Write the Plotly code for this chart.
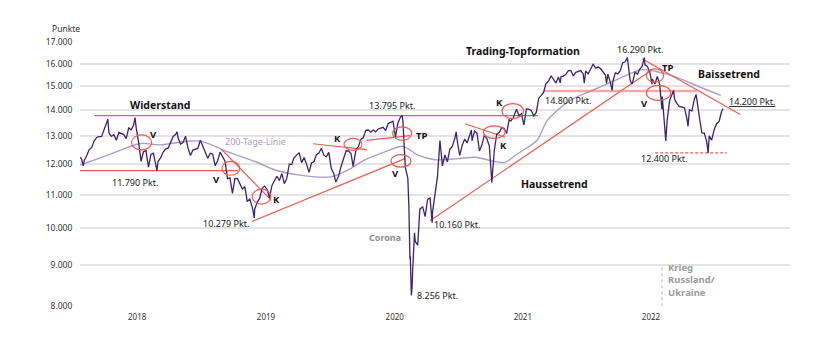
import numpy as np
import plotly.graph_objects as go

# ---------------- data ----------------
dax_dates = [
    "2017-08-21", "2017-08-25", "2017-08-29", "2017-09-01", "2017-09-08", "2017-09-15", "2017-09-22", "2017-09-29",
    "2017-10-06", "2017-10-13", "2017-10-20", "2017-10-27", "2017-11-03", "2017-11-07", "2017-11-10", "2017-11-17",
    "2017-11-24", "2017-12-01", "2017-12-08", "2017-12-15", "2017-12-22", "2017-12-29",
    "2018-01-05", "2018-01-12", "2018-01-19", "2018-01-23", "2018-01-26", "2018-02-02", "2018-02-09", "2018-02-16",
    "2018-02-23", "2018-03-02", "2018-03-09", "2018-03-16", "2018-03-23", "2018-03-26", "2018-03-29", "2018-04-06",
    "2018-04-13", "2018-04-20", "2018-04-27", "2018-05-04", "2018-05-11", "2018-05-18", "2018-05-22", "2018-05-25",
    "2018-06-01", "2018-06-08", "2018-06-15", "2018-06-22", "2018-06-29", "2018-07-06", "2018-07-13", "2018-07-20",
    "2018-07-27", "2018-08-03", "2018-08-10", "2018-08-17", "2018-08-24", "2018-08-31", "2018-09-07", "2018-09-14",
    "2018-09-21", "2018-09-28", "2018-10-05", "2018-10-12", "2018-10-19", "2018-10-26", "2018-11-02", "2018-11-09",
    "2018-11-16", "2018-11-23", "2018-11-30", "2018-12-07", "2018-12-14", "2018-12-21", "2018-12-27", "2018-12-28",
    "2019-01-04", "2019-01-11", "2019-01-18", "2019-01-25", "2019-02-01", "2019-02-08", "2019-02-15", "2019-02-22",
    "2019-03-01", "2019-03-08", "2019-03-15", "2019-03-22", "2019-03-29", "2019-04-05", "2019-04-12", "2019-04-18",
    "2019-04-26", "2019-05-03", "2019-05-10", "2019-05-17", "2019-05-24", "2019-05-31", "2019-06-07", "2019-06-14",
    "2019-06-21", "2019-06-28", "2019-07-05", "2019-07-12", "2019-07-19", "2019-07-26", "2019-08-02", "2019-08-09",
    "2019-08-15", "2019-08-23", "2019-08-30", "2019-09-06", "2019-09-13", "2019-09-20", "2019-09-27", "2019-10-03",
    "2019-10-11", "2019-10-18", "2019-10-25", "2019-11-01", "2019-11-08", "2019-11-15", "2019-11-22", "2019-11-29",
    "2019-12-06", "2019-12-13", "2019-12-20", "2019-12-27",
    "2020-01-03", "2020-01-10", "2020-01-17", "2020-01-24", "2020-01-31", "2020-02-07", "2020-02-14", "2020-02-19",
    "2020-02-21", "2020-02-28", "2020-03-06", "2020-03-09", "2020-03-12", "2020-03-13", "2020-03-16", "2020-03-18",
    "2020-03-20", "2020-03-25", "2020-03-27", "2020-04-03", "2020-04-09", "2020-04-17", "2020-04-24", "2020-05-01",
    "2020-05-08", "2020-05-14", "2020-05-15", "2020-05-22", "2020-05-29", "2020-06-05", "2020-06-12", "2020-06-19",
    "2020-06-26", "2020-07-03", "2020-07-10", "2020-07-17", "2020-07-21", "2020-07-24", "2020-07-31", "2020-08-07",
    "2020-08-14", "2020-08-21", "2020-08-28", "2020-09-02", "2020-09-04", "2020-09-11", "2020-09-18", "2020-09-25",
    "2020-10-02", "2020-10-09", "2020-10-16", "2020-10-23", "2020-10-30", "2020-11-06", "2020-11-13", "2020-11-20",
    "2020-11-27", "2020-12-04", "2020-12-11", "2020-12-18", "2020-12-23", "2020-12-30",
    "2021-01-08", "2021-01-15", "2021-01-22", "2021-01-29", "2021-02-05", "2021-02-12", "2021-02-19", "2021-02-26",
    "2021-03-05", "2021-03-12", "2021-03-19", "2021-03-26", "2021-04-01", "2021-04-09", "2021-04-16", "2021-04-23",
    "2021-04-30", "2021-05-07", "2021-05-12", "2021-05-14", "2021-05-21", "2021-05-28", "2021-06-04", "2021-06-11",
    "2021-06-18", "2021-06-25", "2021-07-02", "2021-07-09", "2021-07-16", "2021-07-19", "2021-07-23", "2021-07-30",
    "2021-08-06", "2021-08-13", "2021-08-20", "2021-08-27", "2021-09-03", "2021-09-10", "2021-09-17", "2021-09-20",
    "2021-09-24", "2021-10-01", "2021-10-06", "2021-10-08", "2021-10-15", "2021-10-22", "2021-10-29", "2021-11-05",
    "2021-11-12", "2021-11-18", "2021-11-19", "2021-11-26", "2021-12-01", "2021-12-03", "2021-12-10", "2021-12-17",
    "2021-12-23", "2021-12-30",
    "2022-01-05", "2022-01-07", "2022-01-14", "2022-01-21", "2022-01-27", "2022-01-28", "2022-02-04", "2022-02-11",
    "2022-02-18", "2022-02-24", "2022-02-25", "2022-03-04", "2022-03-07", "2022-03-11", "2022-03-18", "2022-03-29",
    "2022-04-01", "2022-04-08", "2022-04-14", "2022-04-22", "2022-04-29", "2022-05-06", "2022-05-09", "2022-05-13",
    "2022-05-20", "2022-05-27", "2022-06-01", "2022-06-10", "2022-06-17", "2022-06-24", "2022-07-01", "2022-07-05",
    "2022-07-08", "2022-07-15", "2022-07-22", "2022-07-29", "2022-08-05", "2022-08-12", "2022-08-16",
]
dax_values = [
    12250, 12170, 11950, 12140, 12300, 12520, 12590, 12830,
    12960, 12990, 12990, 13220, 13480, 13650, 13130, 13000,
    13060, 12860, 13150, 13100, 13070, 12920,
    13320, 13250, 13430, 13720, 13340, 12790, 12110, 12450,
    12480, 11910, 12350, 12390, 11890, 11790, 12100, 12240,
    12440, 12540, 12580, 12820, 13000, 13080, 13170, 12940,
    12720, 12770, 13010, 12580, 12310, 12500, 12540, 12560,
    12860, 12620, 12420, 12210, 12390, 12360, 11960, 12120,
    12430, 12250, 12110, 11520, 11550, 11050, 11520, 11530,
    11340, 11190, 11260, 10790, 10870, 10630, 10300, 10560,
    10770, 10890, 11210, 11280, 11180, 10910, 11300, 11460,
    11600, 11460, 11690, 11360, 11530, 12010, 12000, 12220,
    12320, 12410, 12060, 12240, 12010, 11730, 12050, 12100,
    12340, 12400, 12570, 12320, 12260, 12420, 11870, 11690,
    11410, 11610, 11940, 12190, 12470, 12470, 12380, 11930,
    12510, 12630, 12890, 12960, 13230, 13240, 13160, 13240,
    13170, 13280, 13320, 13340,
    13220, 13480, 13530, 13580, 12980, 13510, 13740, 13795,
    13580, 11890, 11540, 10630, 9160, 9230, 8256, 8440,
    8930, 9870, 9630, 9530, 10560, 10630, 10340, 10860,
    10900, 10160, 10470, 11070, 11590, 12850, 11950, 12330,
    12090, 12530, 12630, 12920, 13170, 12840, 12310, 12670,
    12900, 12760, 13030, 13240, 12840, 13200, 13120, 12470,
    12690, 13050, 12910, 12650, 11400, 12480, 13080, 13140,
    13340, 13300, 13110, 13630, 13590, 13720,
    14050, 13790, 13870, 13430, 14060, 14050, 13990, 13790,
    13920, 14500, 14620, 14750, 15110, 15230, 15460, 15280,
    15140, 15400, 15150, 15420, 15440, 15520, 15690, 15690,
    15450, 15610, 15650, 15690, 15540, 15130, 15670, 15540,
    15760, 15980, 15810, 15850, 15780, 15610, 15490, 15130,
    15530, 15160, 14820, 15210, 15590, 15540, 15690, 16050,
    16090, 16290, 16160, 15260, 15100, 15170, 15620, 15530,
    15760, 15880,
    16285, 15950, 15880, 15600, 15090, 15320, 15100, 15430,
    15040, 14050, 14570, 13090, 12830, 13630, 14410, 14820,
    14450, 14280, 14160, 14140, 14100, 13670, 13380, 14030,
    13980, 14460, 14650, 13760, 13130, 13120, 12810, 12400,
    13020, 12860, 13250, 13480, 13570, 13950, 14080,
]

ma200_dates = [
    "2017-08-20", "2017-11-13", "2018-02-06", "2018-04-04", "2018-06-27", "2018-08-03", "2018-10-13", "2018-12-29",
    "2019-02-24", "2019-05-05", "2019-08-01", "2019-09-18", "2019-11-05", "2020-01-01", "2020-02-20", "2020-04-04",
    "2020-05-22", "2020-07-26", "2020-09-12", "2020-11-08", "2020-12-06", "2021-01-12", "2021-03-07", "2021-04-05",
    "2021-06-03", "2021-07-21", "2021-09-16", "2021-11-20", "2021-12-27", "2022-02-05", "2022-04-11", "2022-06-16",
    "2022-08-10",
]
ma200_values = [
    11980, 12350, 12740, 12690, 12830, 12810, 12440, 12100,
    11810, 11640, 11580, 11810, 12160, 12440, 12640, 12320,
    12160, 12200, 12250, 12100, 12070, 12380, 12860, 13600,
    14350, 14700, 15060, 15510, 15730, 15660, 15370, 14940,
    14620,
]

ytick_vals = [8000, 9000, 10000, 11000, 12000, 13000, 14000, 15000, 16000, 17000]
ytick_text = ["8.000", "9.000", "10.000", "11.000", "12.000", "13.000", "14.000", "15.000", "16.000", "17.000"]
xtick_vals = ["2018-01-29", "2019-01-29", "2020-01-29", "2021-01-26", "2022-01-24"]
xtick_text = ["2018", "2019", "2020", "2021", "2022"]

# trend / level lines: (start date, start level, end date, end level)
trend_lines = [
    ("2017-09-30", 13795, "2021-03-10", 13795),   # Widerstand
    ("2017-08-20", 11790, "2018-11-11", 11790),   # 11.790 support
    ("2018-09-24", 12540, "2019-02-12", 10845),   # downtrend 2018
    ("2018-12-20", 10195, "2020-02-27", 12200),   # uptrend 2019
    ("2020-05-08", 10216, "2022-01-28", 15740),   # Haussetrend
    ("2021-12-30", 16226, "2022-10-04", 13836),   # Baissetrend
    ("2019-06-11", 12730, "2019-11-11", 12520),   # K line 2019
    ("2019-11-10", 12850, "2020-03-12", 13030),   # TP line 2020
    ("2020-08-15", 13480, "2020-12-07", 12970),   # K line 2020
]
level_14800 = ("2021-03-25", 14800, "2022-06-03", 14800)
level_12400 = ("2022-02-05", 12400, "2022-08-27", 12400)

# ellipses: (x0 date, x1 date, low level, high level)
ellipses = [
    ("2018-01-13", "2018-03-11", 12510, 13055),
    ("2018-09-26", "2018-11-16", 11635, 12105),
    ("2018-12-21", "2019-02-12", 10715, 11180),
    ("2019-09-07", "2019-10-28", 12495, 12925),
    ("2020-01-23", "2020-03-17", 12860, 13360),
    ("2020-01-18", "2020-03-15", 11905, 12340),
    ("2020-10-06", "2020-12-07", 12925, 13395),
    ("2020-11-28", "2021-01-28", 13680, 14280),
    ("2022-01-11", "2022-03-01", 15180, 15765),
    ("2022-01-11", "2022-03-21", 14410, 15040),
]

# text labels: (text, date, level, size, bold, color)
labels = [
    ("Widerstand", "2018-04-03", 14210, 10.5, True, "#111111"),
    ("V", "2018-03-17", 13080, 9.5, True, "#111111"),
    ("200-Tage-Linie", "2018-12-31", 12800, 9, False, "#a99cc6"),
    ("11.790 Pkt.", "2018-01-22", 11390, 9, False, "#222222"),
    ("V", "2018-09-12", 11480, 9.5, True, "#111111"),
    ("K", "2019-03-01", 10860, 9.5, True, "#111111"),
    ("10.279 Pkt.", "2018-10-09", 10150, 9, False, "#222222"),
    ("K", "2019-08-21", 12925, 9.5, True, "#111111"),
    ("13.795 Pkt.", "2020-01-20", 14210, 9, False, "#222222"),
    ("TP", "2020-04-14", 13040, 9.5, True, "#111111"),
    ("V", "2020-01-30", 11700, 9.5, True, "#111111"),
    ("Corona", "2019-12-31", 9743, 9, True, "#8f8f8f"),
    ("8.256 Pkt.", "2020-05-28", 8262, 9, False, "#222222"),
    ("10.160 Pkt.", "2020-07-24", 10100, 9, False, "#222222"),
    ("K", "2020-12-02", 12680, 9.5, True, "#111111"),
    ("K", "2020-11-22", 14340, 9.5, True, "#111111"),
    ("Trading-Topformation", "2021-01-27", 16610, 10.5, True, "#111111"),
    ("Haussetrend", "2021-04-27", 11350, 10.5, True, "#111111"),
    ("14.800 Pkt.", "2021-06-04", 14410, 9, False, "#222222"),
    ("16.290 Pkt.", "2021-12-25", 16660, 9, False, "#222222"),
    ("TP", "2022-03-13", 15850, 9.5, True, "#111111"),
    ("V", "2022-01-05", 14280, 9.5, True, "#111111"),
    ("Baissetrend", "2022-09-01", 15540, 10.5, True, "#111111"),
    ("<u>14.200 Pkt.</u>", "2022-11-07", 14380, 9, False, "#222222"),
    ("12.400 Pkt.", "2022-03-01", 12210, 9, False, "#222222"),
]
war_date = "2022-02-24"

# ---------------- styling ----------------
RED = "#ee5b50"
FONT = "Noto Sans"

fig = go.Figure()

fig.add_trace(go.Scatter(
    x=ma200_dates, y=ma200_values, mode="lines",
    line=dict(color="#ab9fc8", width=1.4, shape="spline", smoothing=0.8),
    hoverinfo="skip", showlegend=False))

for d0, v0, d1, v1 in trend_lines:
    fig.add_trace(go.Scatter(x=[d0, d1], y=[v0, v1], mode="lines",
                             line=dict(color=RED, width=1.2), hoverinfo="skip", showlegend=False))

fig.add_trace(go.Scatter(x=[level_14800[0], level_14800[2]], y=[level_14800[1], level_14800[3]], mode="lines",
                         line=dict(color="rgba(240,110,100,0.6)", width=2.6), hoverinfo="skip", showlegend=False))
fig.add_trace(go.Scatter(x=[level_12400[0], level_12400[2]], y=[level_12400[1], level_12400[3]], mode="lines",
                         line=dict(color=RED, width=1.2, dash="3px,2px"), hoverinfo="skip", showlegend=False))

fig.add_trace(go.Scatter(
    x=dax_dates, y=dax_values, mode="lines",
    line=dict(color="#3b2470", width=1.3),
    hoverinfo="skip", showlegend=False))

shapes = []
for x0, x1, lo, hi in ellipses:
    shapes.append(dict(type="circle", xref="x", yref="y", x0=x0, x1=x1, y0=lo, y1=hi,
                       line=dict(color=RED, width=1.2), fillcolor="rgba(0,0,0,0)", layer="above"))
shapes.append(dict(type="line", xref="x", yref="y", x0=war_date, x1=war_date, y0=8000, y1=9000,
                   line=dict(color="#cccccc", width=1.5, dash="dot"), layer="below"))

annotations = []
for text, d, lvl, size, bold, color in labels:
    annotations.append(dict(
        x=d, y=float(np.log10(lvl)), xref="x", yref="y",
        text=f"<b>{text}</b>" if bold else text, showarrow=False,
        font=dict(family=FONT, size=size, color=color),
        xanchor="center", yanchor="middle"))
annotations.append(dict(
    x="2022-03-08", y=float(np.log10(8620)), xref="x", yref="y",
    text="<b>Krieg<br>Russland/<br>Ukraine</b>", showarrow=False, align="left",
    font=dict(family=FONT, size=9.5, color="#9b9b9b"), xanchor="left", yanchor="middle"))
annotations.append(dict(
    x=-0.0423, y=1.05, xref="paper", yref="paper", text="Punkte", showarrow=False,
    font=dict(family=FONT, size=8.5, color="#333333"), xanchor="left", yanchor="middle"))

fig.update_layout(
    width=840, height=341, autosize=False,
    margin=dict(l=80, r=50, t=42, b=34, pad=0),
    plot_bgcolor="white", paper_bgcolor="white",
    shapes=shapes, annotations=annotations,
    font=dict(family=FONT, size=8.5, color="#333333"),
    xaxis=dict(
        type="date", range=["2017-08-20", "2023-02-22"],
        tickvals=xtick_vals, ticktext=xtick_text,
        showgrid=False, zeroline=False, showline=False,
        ticks="outside", ticklen=2, tickcolor="rgba(0,0,0,0)",
        tickfont=dict(family=FONT, size=8, color="#333333")),
    yaxis=dict(
        type="log", range=[np.log10(7985), np.log10(17025)],
        tickvals=ytick_vals, ticktext=ytick_text,
        showgrid=True, gridcolor="#e4e4e4", gridwidth=1.5,
        zeroline=False, showline=False, ticks="outside", ticklen=5, tickcolor="rgba(0,0,0,0)",
        tickfont=dict(family=FONT, size=8.5, color="#333333")),
)

fig.write_html("out.html")
